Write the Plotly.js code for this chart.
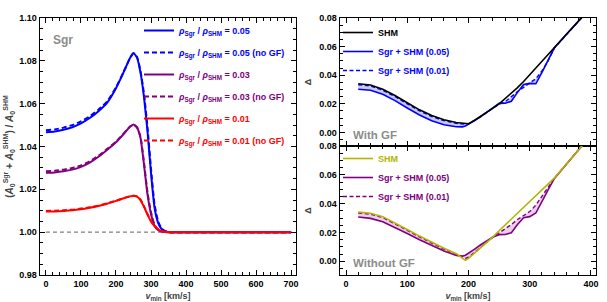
<!DOCTYPE html>
<html>
<head>
<meta charset="utf-8">
<script src="https://cdn.plot.ly/plotly-3.0.1.min.js"></script>
<style>html,body{margin:0;padding:0;background:#fff;}#chart{width:607px;height:302px;}</style>
</head>
<body>
<div id="chart"></div>
<script>
// ---------- Left panel data ----------
const vLeft = [0,25,50,75,100,125,150,175,200,220,240,250,260,270,280,290,300,310,320,330,340,350,360,400,500,600,700];
const ratio05 = [1.0466,1.0470,1.0478,1.0490,1.0508,1.0533,1.0565,1.0605,1.0672,1.0740,1.0813,1.0836,1.0815,1.0745,1.0630,1.0470,1.0275,1.0115,1.0045,1.0015,1.0005,1.0001,1.0,1.0,1.0,1.0,1.0];
const ratio05noGF = [1.0476,1.0480,1.0488,1.0500,1.0517,1.0541,1.0572,1.0611,1.0676,1.0742,1.0812,1.0834,1.0818,1.0752,1.0645,1.0490,1.0295,1.0130,1.0052,1.0018,1.0006,1.0001,1.0,1.0,1.0,1.0,1.0];
const ratio03 = [1.0277,1.0279,1.0284,1.0292,1.0305,1.0325,1.0352,1.0385,1.0420,1.0455,1.0492,1.0503,1.0488,1.0440,1.0315,1.0175,1.0085,1.0030,1.0010,1.0003,1.0001,1.0,1.0,1.0,1.0,1.0,1.0];
const ratio03noGF = [1.0285,1.0287,1.0292,1.0300,1.0312,1.0331,1.0357,1.0389,1.0423,1.0457,1.0493,1.0502,1.0490,1.0445,1.0325,1.0185,1.0092,1.0034,1.0012,1.0004,1.0001,1.0,1.0,1.0,1.0,1.0,1.0];
const ratio01 = [1.0096,1.0097,1.0099,1.0102,1.0107,1.0114,1.0122,1.0133,1.0146,1.0157,1.0167,1.0170,1.0166,1.0150,1.0118,1.0082,1.0050,1.0028,1.0013,1.0005,1.0002,1.0,1.0,1.0,1.0,1.0,1.0];
const ratio01noGF = [1.0099,1.0100,1.0102,1.0105,1.0110,1.0116,1.0124,1.0135,1.0147,1.0158,1.0167,1.0170,1.0167,1.0152,1.0121,1.0085,1.0052,1.0029,1.0014,1.0005,1.0002,1.0,1.0,1.0,1.0,1.0,1.0];
const vBase = [0, 700];
const baseRatio = [1.0, 1.0];

// ---------- Right panels data ----------
const vRight = [20,40,60,80,100,120,140,160,180,190,195,200,210,220,240,250,260,270,280,290,300,310,320,330,340,360,380,390];
const shmGF = [0.0340,0.0332,0.0302,0.0258,0.0207,0.0158,0.0118,0.0088,0.0069,0.0063,0.0061,0.0061,0.0085,0.0112,0.0170,0.0200,0.0236,0.0273,0.0313,0.0356,0.0402,0.0450,0.0498,0.0545,0.0592,0.0686,0.0780,0.0827];
const sgr05GF = [0.0302,0.0295,0.0267,0.0222,0.0171,0.0122,0.0082,0.0054,0.0040,0.0039,0.0045,0.0056,0.0082,0.0110,0.0172,0.0203,0.0204,0.0218,0.0280,0.0335,0.0343,0.0340,0.0420,0.0505,0.0590,0.0686,0.0780,0.0827];
const sgr01GF = [0.0333,0.0325,0.0295,0.0251,0.0200,0.0151,0.0111,0.0082,0.0064,0.0058,0.0057,0.0059,0.0083,0.0110,0.0170,0.0198,0.0215,0.0253,0.0285,0.0315,0.0345,0.0376,0.0430,0.0500,0.0588,0.0686,0.0780,0.0827];
const shmNoGF = [0.0341,0.0333,0.0310,0.0268,0.0221,0.0175,0.0130,0.0090,0.0053,0.0024,0.0007,0.0020,0.0057,0.0095,0.0170,0.0212,0.0252,0.0292,0.0333,0.0375,0.0417,0.0455,0.0493,0.0533,0.0577,0.0675,0.0775,0.0825];
const sgr05NoGF = [0.0307,0.0298,0.0275,0.0236,0.0193,0.0150,0.0108,0.0071,0.0041,0.0036,0.0042,0.0055,0.0085,0.0115,0.0168,0.0185,0.0186,0.0198,0.0255,0.0302,0.0310,0.0335,0.0410,0.0495,0.0573,0.0675,0.0775,0.0825];
const sgr01NoGF = [0.0335,0.0327,0.0304,0.0262,0.0215,0.0169,0.0125,0.0085,0.0050,0.0027,0.0020,0.0028,0.0060,0.0097,0.0168,0.0195,0.0225,0.0255,0.0290,0.0318,0.0345,0.0390,0.0450,0.0515,0.0575,0.0675,0.0775,0.0825];

// ---------- Labels ----------
const rho = (v, extra, col) => `<span style="color:${col}"><i>ρ</i><sub>Sgr</sub> / <i>ρ</i><sub>SHM</sub> = ${v}${extra}</span>`;
const leftNames = [rho('0.05','', '#0000ff'), rho('0.05',' (no GF)','#0000ff'), rho('0.03','','#800080'), rho('0.03',' (no GF)','#800080'), rho('0.01','','#ff0000'), rho('0.01',' (no GF)','#ff0000')];
const rightNames = ['SHM', 'Sgr + SHM (0.05)', 'Sgr + SHM (0.01)'];

const BLUE = '#0000ff', PURPLE = '#800080', RED = '#ff0000', OLIVE = '#b4b400';
const FONT = 'Liberation Sans, Arial, sans-serif';

function leftTrace(y, name, color, dash, g) {
  return {x: vLeft, y: y, name: name, type: 'scatter', mode: 'lines', xaxis: 'x', yaxis: 'y',
    line: {color: color, width: 2, dash: dash, shape: 'spline', smoothing: 0.5},
    legend: 'legend', legendgroup: g};
}

const traces = [
  {x: vBase, y: baseRatio, type: 'scatter', mode: 'lines', xaxis: 'x', yaxis: 'y', showlegend: false,
   line: {color: '#808080', width: 1.3, dash: '4px,3px'}, hoverinfo: 'skip'},
  leftTrace(ratio05, leftNames[0], BLUE, 'solid', 'a'),
  leftTrace(ratio05noGF, leftNames[1], BLUE, '5px,3px', 'b'),
  leftTrace(ratio03, leftNames[2], PURPLE, 'solid', 'c'),
  leftTrace(ratio03noGF, leftNames[3], PURPLE, '5px,3px', 'd'),
  leftTrace(ratio01, leftNames[4], RED, 'solid', 'e'),
  leftTrace(ratio01noGF, leftNames[5], RED, '5px,3px', 'f'),

  // With GF
  {x: vRight, y: sgr05GF, name: `<span style="color:${BLUE}">${rightNames[1]}</span>`, type: 'scatter', mode: 'lines', xaxis: 'x2', yaxis: 'y2',
   line: {color: BLUE, width: 1.6}, legend: 'legend2', legendrank: 2},
  {x: vRight, y: sgr01GF, type: 'scatter', mode: 'lines', xaxis: 'x2', yaxis: 'y2', showlegend: false,
   fill: 'tonexty', fillcolor: 'rgba(60,60,255,0.28)', line: {width: 0, color: BLUE}, hoverinfo: 'skip'},
  {x: vRight, y: sgr01GF, name: `<span style="color:${BLUE}">${rightNames[2]}</span>`, type: 'scatter', mode: 'lines', xaxis: 'x2', yaxis: 'y2',
   line: {color: BLUE, width: 1.4, dash: '4px,2.5px'}, legend: 'legend2', legendrank: 3},
  {x: vRight, y: shmGF, name: `<span style="color:#000">${rightNames[0]}</span>`, type: 'scatter', mode: 'lines', xaxis: 'x2', yaxis: 'y2',
   line: {color: '#000000', width: 1.6}, legend: 'legend2', legendrank: 1},

  // Without GF
  {x: vRight, y: sgr05NoGF, name: `<span style="color:${PURPLE}">${rightNames[1]}</span>`, type: 'scatter', mode: 'lines', xaxis: 'x3', yaxis: 'y3',
   line: {color: PURPLE, width: 1.6}, legend: 'legend3', legendrank: 2},
  {x: vRight, y: sgr01NoGF, type: 'scatter', mode: 'lines', xaxis: 'x3', yaxis: 'y3', showlegend: false,
   fill: 'tonexty', fillcolor: 'rgba(150,40,150,0.22)', line: {width: 0, color: PURPLE}, hoverinfo: 'skip'},
  {x: vRight, y: sgr01NoGF, name: `<span style="color:${PURPLE}">${rightNames[2]}</span>`, type: 'scatter', mode: 'lines', xaxis: 'x3', yaxis: 'y3',
   line: {color: PURPLE, width: 1.4, dash: '4px,2.5px'}, legend: 'legend3', legendrank: 3},
  {x: vRight, y: shmNoGF, name: `<span style="color:${OLIVE}">${rightNames[0]}</span>`, type: 'scatter', mode: 'lines', xaxis: 'x3', yaxis: 'y3',
   line: {color: OLIVE, width: 1.6}, legend: 'legend3', legendrank: 1}
];

const tickFont = {family: FONT, size: 9, color: '#000', weight: 'bold'};
function axisBase(extra) {
  return Object.assign({
    showline: true, linecolor: '#000', linewidth: 1.3, mirror: 'ticks',
    ticks: 'inside', ticklen: 5, tickwidth: 1, tickcolor: '#000',
    showgrid: false, zeroline: false, tickfont: tickFont, fixedrange: true
  }, extra);
}

const legendBase = {xanchor: 'left', yanchor: 'top', bgcolor: 'rgba(0,0,0,0)', borderwidth: 0,
  font: {family: FONT, size: 9, weight: 'bold', color: '#000'}};

const layout = {
  width: 607, height: 302,
  margin: {l: 0, r: 0, t: 0, b: 0},
  paper_bgcolor: '#fff', plot_bgcolor: '#fff',
  showlegend: true,
  xaxis: axisBase({domain: [40/607, 296/607], anchor: 'y', range: [-17, 714], tick0: 0, dtick: 100,
    minor: {dtick: 20, ticklen: 3, ticks: 'inside', tickcolor: '#000', showgrid: false},
    title: {text: '<i>v</i><sub>min</sub> [km/s]', font: {family: FONT, size: 9, weight: 'bold'}, standoff: 4}}),
  yaxis: axisBase({domain: [1 - 275/302, 1 - 18/302], anchor: 'x', range: [0.98, 1.10], tick0: 0.98, dtick: 0.02, tickformat: '.2f',
    minor: {dtick: 0.005, ticklen: 3, ticks: 'inside', tickcolor: '#000', showgrid: false},
    title: {text: '(<i>A</i><sub>0</sub><sup>Sgr</sup> + <i>A</i><sub>0</sub><sup>SHM</sup>) / <i>A</i><sub>0</sub><sup>SHM</sup>', font: {family: FONT, size: 10, weight: 'bold'}, standoff: 4}}),
  xaxis2: axisBase({domain: [340/607, 596/607], anchor: 'y2', range: [-9.8, 408.2], tick0: 0, dtick: 100, showticklabels: false,
    minor: {dtick: 20, ticklen: 3, ticks: 'inside', tickcolor: '#000', showgrid: false}}),
  yaxis2: axisBase({domain: [1 - 146/302, 1 - 18/302], anchor: 'x2', range: [-0.0095, 0.08], tick0: 0, dtick: 0.02, tickformat: '.2f',
    minor: {dtick: 0.005, ticklen: 3, ticks: 'inside', tickcolor: '#000', showgrid: false},
    title: {text: 'Δ', font: {family: FONT, size: 9, weight: 'bold'}, standoff: 6}}),
  xaxis3: axisBase({domain: [340/607, 596/607], anchor: 'y3', range: [-9.8, 408.2], tick0: 0, dtick: 100,
    minor: {dtick: 20, ticklen: 3, ticks: 'inside', tickcolor: '#000', showgrid: false},
    title: {text: '<i>v</i><sub>min</sub> [km/s]', font: {family: FONT, size: 9, weight: 'bold'}, standoff: 4}}),
  yaxis3: axisBase({domain: [1 - 275/302, 1 - 146/302], anchor: 'x3', range: [-0.0095, 0.08], tick0: 0, dtick: 0.02, tickformat: '.2f',
    minor: {dtick: 0.005, ticklen: 3, ticks: 'inside', tickcolor: '#000', showgrid: false},
    title: {text: 'Δ', font: {family: FONT, size: 9, weight: 'bold'}, standoff: 6}}),
  legend: Object.assign({}, legendBase, {x: 139/607, y: 1 - 16/302, traceorder: 'grouped', tracegroupgap: 3}),
  legend2: Object.assign({}, legendBase, {x: 338/607, y: 1 - 18/302, traceorder: 'normal'}),
  legend3: Object.assign({}, legendBase, {x: 338/607, y: 1 - 144/302, traceorder: 'normal'}),
  annotations: [
    {text: 'Sgr', xref: 'paper', yref: 'paper', x: 51/607, y: 1 - 40/302, xanchor: 'left', yanchor: 'middle', showarrow: false,
     font: {family: FONT, size: 12, weight: 'bold', color: '#8c8c8c'}},
    {text: 'With GF', xref: 'paper', yref: 'paper', x: 351/607, y: 1 - 135/302, xanchor: 'left', yanchor: 'middle', showarrow: false,
     font: {family: FONT, size: 11.5, weight: 'bold', color: '#8c8c8c'}},
    {text: 'Without GF', xref: 'paper', yref: 'paper', x: 351/607, y: 1 - 263/302, xanchor: 'left', yanchor: 'middle', showarrow: false,
     font: {family: FONT, size: 11.5, weight: 'bold', color: '#8c8c8c'}}
  ]
};

Plotly.newPlot('chart', traces, layout, {staticPlot: true, displayModeBar: false});
</script>
</body>
</html>
